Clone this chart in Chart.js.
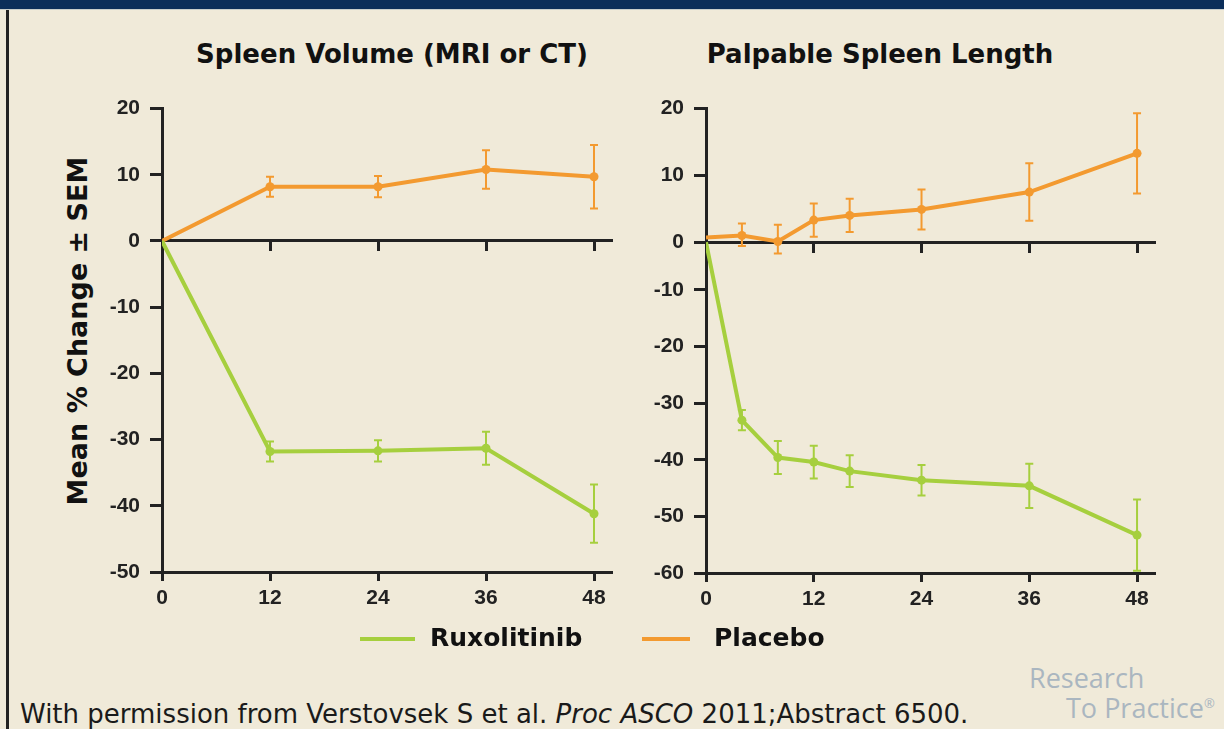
<!DOCTYPE html>
<html>
<head>
<meta charset="utf-8">
<script src="https://cdn.jsdelivr.net/npm/chart.js@4.4.1/dist/chart.umd.min.js"></script>
<style>
  body { margin:0; width:1224px; height:729px; background:#f0ead9; position:relative; overflow:hidden;
         font-family:"DejaVu Sans", Verdana, sans-serif; color:#111; }
  #topbar { position:absolute; left:0; top:0; width:1224px; height:9px; background:#0b2e5a; border-bottom:1px solid #c7cdcb; }
  #leftline { position:absolute; left:6px; top:10px; width:3px; height:719px; background:#222; }
  .title { position:absolute; top:38px; font-weight:bold; font-size:26px; line-height:32px; white-space:nowrap; transform:translateX(-50%); }
  #ytitle { position:absolute; left:77px; top:331px; font-weight:bold; font-size:27px; white-space:nowrap;
            transform:translate(-50%,-50%) rotate(-90deg); }
  canvas { position:absolute; }
  .legline { position:absolute; height:4px; top:637px; }
  .legtext { position:absolute; top:622px; font-weight:bold; font-size:25px; line-height:32px; }
  #footer { position:absolute; left:20px; top:701px; font-size:26px; line-height:26px; white-space:nowrap; color:#1a1a1a; }
  .logo { position:absolute; font-family:"Open Sans", sans-serif; font-size:27px; color:#aab6c0; white-space:nowrap; }
  .logo sup { font-size:13px; }
</style>
</head>
<body>
<div id="topbar"></div>
<div id="leftline"></div>
<div class="title" style="left:392px">Spleen Volume (MRI or CT)</div>
<div class="title" style="left:880px">Palpable Spleen Length</div>
<div id="ytitle">Mean % Change ± SEM</div>

<canvas id="volumeChart" style="left:90px; top:86px; width:530px; height:539px"></canvas>
<canvas id="lengthChart" style="left:630px; top:86px; width:535px; height:539px"></canvas>

<div class="legline" style="left:360px; width:55px; background:#a6cf3e"></div>
<div class="legtext" style="left:430px">Ruxolitinib</div>
<div class="legline" style="left:642px; width:48px; background:#f39a30"></div>
<div class="legtext" style="left:714px">Placebo</div>

<div id="footer">With permission from Verstovsek S et al. <i>Proc ASCO</i> 2011;Abstract 6500.</div>
<div class="logo" style="left:1029px; top:659px">Research</div>
<div class="logo" style="left:1066px; top:689px">To Practice<sup>®</sup></div>

<script>
//  Spleen volume (weeks 0-48)
var weeksVolume = [0, 12, 24, 36, 48];
var ruxVolume = [0, -31.8, -31.7, -31.3, -41.2];
var ruxVolumeSem = [0, 1.5, 1.6, 2.5, 4.4];
var placeboVolume = [0, 8.2, 8.2, 10.8, 9.7];
var placeboVolumeSem = [0, 1.5, 1.6, 2.9, 4.8];

//  Palpable spleen length
var weeksLength = [0, 4, 8, 12, 16, 24, 36, 48];
var ruxLength = [0, -33.0, -39.6, -40.4, -42.0, -43.6, -44.6, -53.3];
var ruxLengthSem = [0, 1.8, 2.9, 2.9, 2.8, 2.7, 3.9, 6.3];
var placeboLength = [0.7, 1.0, 0.1, 3.3, 4.0, 4.9, 7.5, 13.3];
var placeboLengthSem = [0, 1.8, 2.5, 2.5, 2.5, 3.0, 4.3, 6.0];

//  Tick labels
var xTicks = [0, 12, 24, 36, 48];
var yTicksVolume = [20, 10, 0, -10, -20, -30, -40, -50];
var yTicksLength = [20, 10, 0, -10, -20, -30, -40, -50, -60];

var GREEN = "#a6cf3e";
var ORANGE = "#f39a30";
var INK = "#222";

//  Right chart: the original axis is not evenly spaced, map it piecewise
var splitValues = [-60, -10, 0, 20];
var splitDecimals = [0, 284 / 466, 332 / 466, 1];

class SplitScale extends Chart.LinearScale {
    getPixelForValue(value) {
        var i = 1;
        while (i < splitValues.length - 1 && value > splitValues[i]) i++;
        var v0 = splitValues[i - 1], v1 = splitValues[i];
        var d0 = splitDecimals[i - 1], d1 = splitDecimals[i];
        return this.getPixelForDecimal(d0 + (d1 - d0) * (value - v0) / (v1 - v0));
    }
    getValueForPixel(pixel) {
        var dec = this.getDecimalForPixel(pixel);
        var i = 1;
        while (i < splitDecimals.length - 1 && dec > splitDecimals[i]) i++;
        var v0 = splitValues[i - 1], v1 = splitValues[i];
        var d0 = splitDecimals[i - 1], d1 = splitDecimals[i];
        return v0 + (v1 - v0) * (dec - d0) / (d1 - d0);
    }
}
SplitScale.id = 'split';
SplitScale.defaults = Chart.LinearScale.defaults;
Chart.register(SplitScale);

//  Draw vertical error bars with caps
var errorBars = {
    id: 'errorBars',
    afterDatasetsDraw: function(chart) {
        var ctx = chart.ctx, xs = chart.scales.x, ys = chart.scales.y;
        chart.data.datasets.forEach(function(ds) {
            ctx.save();
            ctx.strokeStyle = ds.borderColor;
            ctx.lineWidth = 2;
            ds.data.forEach(function(p, i) {
                var e = ds.errors[i];
                if (!e) return;
                var x = xs.getPixelForValue(p.x);
                var y1 = ys.getPixelForValue(p.y + e);
                var y2 = ys.getPixelForValue(p.y - e);
                ctx.beginPath();
                ctx.moveTo(x, y1); ctx.lineTo(x, y2);
                ctx.moveTo(x - 4, y1); ctx.lineTo(x + 4, y1);
                ctx.moveTo(x - 4, y2); ctx.lineTo(x + 4, y2);
                ctx.stroke();
            });
            ctx.restore();
        });
    }
};

function points(xs, ys) {
    return xs.map(function(x, i) { return {x: x, y: ys[i]}; });
}

function series(label, color, xs, ys, errs) {
    return {
        label: label,
        data: points(xs, ys),
        errors: errs,
        borderColor: color,
        backgroundColor: color,
        borderWidth: 4,
        pointRadius: function(c) { return c.dataIndex === 0 ? 0 : 4.5; },
        pointBorderWidth: 0,
        tension: 0
    };
}

var tickFont = {family: "'Liberation Sans', Arial, sans-serif", size: 21, weight: 'bold'};

function makeChart(id, datasets, yType, yMin, yTicks, yWidth, xHeight, padRight) {
    return new Chart(document.getElementById(id), {
        type: 'line',
        data: {datasets: datasets},
        options: {
            responsive: false,
            animation: false,
            layout: {padding: {top: 12, right: padRight, left: 0, bottom: 0}},
            plugins: {legend: {display: false}, tooltip: {enabled: false}},
            scales: {
                x: {
                    type: 'linear', min: 0, max: 50, position: 'bottom',
                    afterBuildTicks: function(s) { s.ticks = xTicks.map(function(v) { return {value: v}; }); },
                    afterFit: function(s) { s.height = xHeight; },
                    grid: {drawOnChartArea: false, tickLength: 9, tickWidth: 3, tickColor: INK},
                    border: {color: INK, width: 3},
                    ticks: {font: tickFont, color: INK, padding: 5, maxRotation: 0}
                },
                x0: {
                    type: 'linear', min: 0, max: 50, position: {y: 0},
                    afterBuildTicks: function(s) { s.ticks = xTicks.map(function(v) { return {value: v}; }); },
                    grid: {drawOnChartArea: false, tickLength: 9, tickWidth: 3, tickColor: INK},
                    border: {color: INK, width: 3},
                    ticks: {display: false}
                },
                y: {
                    type: yType, min: yMin, max: 20,
                    afterBuildTicks: function(s) { s.ticks = yTicks.map(function(v) { return {value: v}; }); },
                    afterFit: function(s) { s.width = yWidth; },
                    grid: {drawOnChartArea: false, tickLength: 12, tickWidth: 3, tickColor: INK},
                    border: {color: INK, width: 3},
                    ticks: {font: tickFont, color: INK, padding: 10}
                }
            }
        },
        plugins: [errorBars]
    });
}

makeChart('volumeChart', [
    series('Ruxolitinib', GREEN, weeksVolume, ruxVolume, ruxVolumeSem),
    series('Placebo', ORANGE, weeksVolume, placeboVolume, placeboVolumeSem)
], 'linear', -50, yTicksVolume, 72, 53, 8);

makeChart('lengthChart', [
    series('Ruxolitinib', GREEN, weeksLength, ruxLength, ruxLengthSem),
    series('Placebo', ORANGE, weeksLength, placeboLength, placeboLengthSem)
], 'split', -60, yTicksLength, 76, 52, 10);
</script>
</body>
</html>
